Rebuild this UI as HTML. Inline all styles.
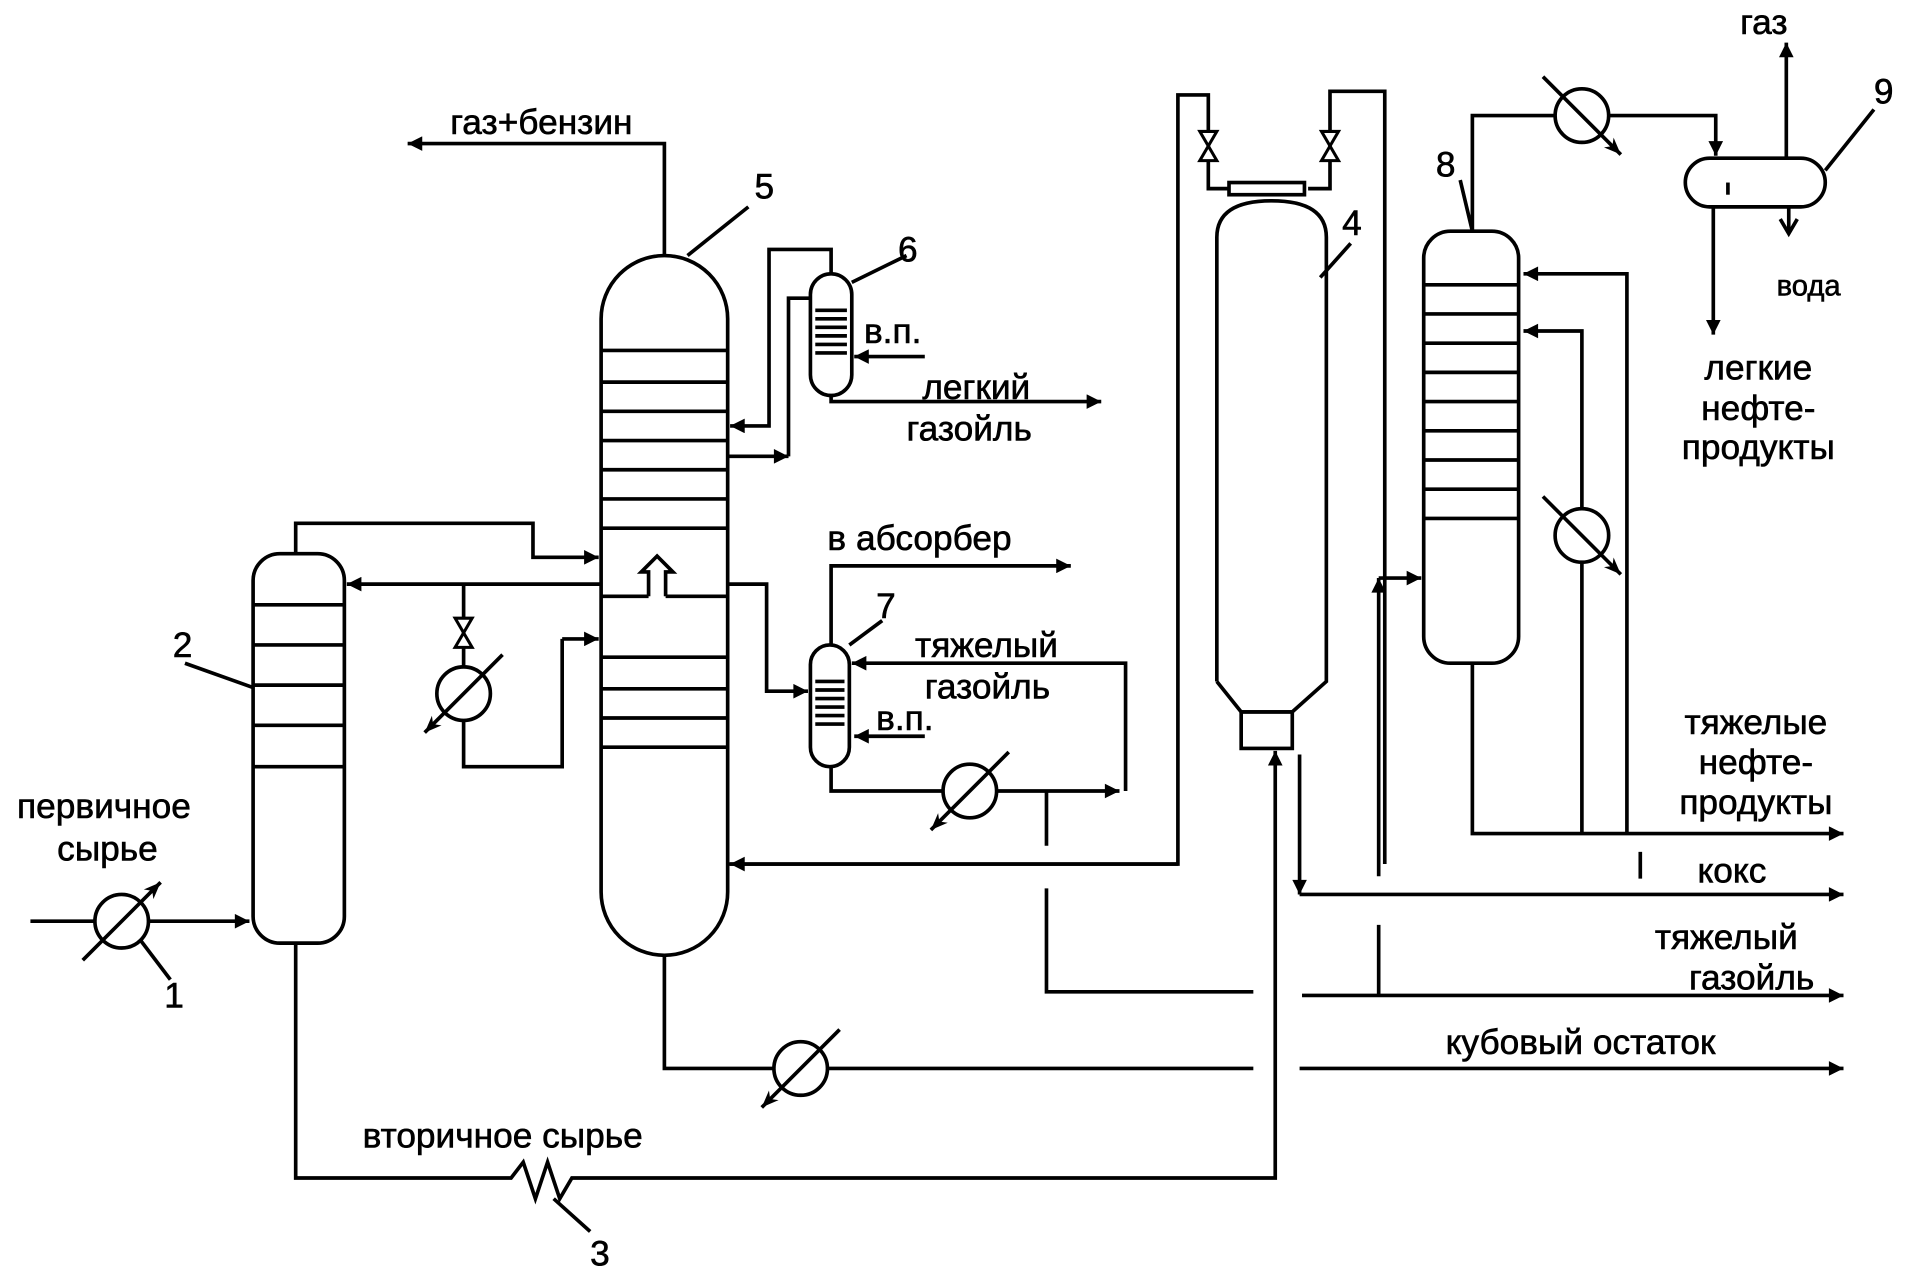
<!DOCTYPE html>
<html><head><meta charset="utf-8"><style>
html,body{margin:0;padding:0;background:#fff;}
svg{display:block}
text{font-family:"Liberation Sans",sans-serif;font-size:29px;fill:#000;stroke:#000;stroke-width:0.5}
</style></head><body>
<svg width="1908" height="1279" viewBox="0 0 1568 1051" preserveAspectRatio="none" xmlns="http://www.w3.org/2000/svg">
<defs>
<marker id="a" viewBox="0 0 10 10" refX="10" refY="5" markerWidth="14" markerHeight="12" markerUnits="userSpaceOnUse" orient="auto"><path d="M0,0L10,5L0,10z"/></marker>
<marker id="b" viewBox="0 0 10 10" refX="10" refY="5" markerWidth="18" markerHeight="14" markerUnits="userSpaceOnUse" orient="auto"><path d="M0,1L10,5L0,9L3,5z"/></marker>
<g id="hx"><circle r="22" fill="#fff" stroke="#000" stroke-width="3"/><line x1="-32" y1="32" x2="32" y2="-32" stroke="#000" stroke-width="3" marker-end="url(#b)"/></g>
<g id="hx2"><circle r="22" fill="#fff" stroke="#000" stroke-width="3"/><line x1="32" y1="-32" x2="-32" y2="32" stroke="#000" stroke-width="3" marker-end="url(#b)"/></g>
<g id="hx3"><circle r="22" fill="#fff" stroke="#000" stroke-width="3"/><line x1="-32" y1="-32" x2="32" y2="32" stroke="#000" stroke-width="3" marker-end="url(#b)"/></g>
<g id="v"><path d="M-7,-12L7,-12L-7,12L7,12z" fill="#fff" stroke="#000" stroke-width="2.5"/></g>
</defs>
<g fill="none" stroke="#000" stroke-width="3">
<rect x="494" y="210" width="104" height="575" rx="52"/>
<path d="M494 288H598M494 314H598M494 338H598M494 362H598M494 386H598M494 410H598M494 434H598M494 490H533M547 490H598M494 540H598M494 566H598M494 590H598M494 614H598"/>
<path d="M533 490V470H527L540 457L553 470H547V490"/>
<path d="M546 210V118H335" marker-end="url(#a)"/>
<path d="M565 210L615 170"/>
<rect x="208" y="455" width="75" height="320" rx="22"/>
<path d="M208 497H283M208 530H283M208 563H283M208 596H283M208 630H283"/>
<path d="M243 455V430H438V458H492" marker-end="url(#a)"/>
<path d="M494 480H285" marker-end="url(#a)"/>
<path d="M381 480V548M381 592V630H462V525"/>
<path d="M462 525H492" marker-end="url(#a)"/>
<path d="M152 545L208 565"/>
<rect x="666" y="225" width="34" height="100" rx="17"/>
<path d="M670 255H696M670 262H696M670 269H696M670 276H696M670 283H696M670 290H696"/>
<path d="M683 225V205H632V350H600" marker-end="url(#a)"/>
<path d="M598 375H648" marker-end="url(#a)"/>
<path d="M648 375V245H666"/>
<path d="M760 293H702" marker-end="url(#a)"/>
<path d="M683 325V330H905" marker-end="url(#a)"/>
<path d="M700 232L745 210"/>
<rect x="666" y="530" width="32" height="100" rx="16"/>
<path d="M670 560H694M670 567H694M670 574H694M670 581H694M670 588H694M670 595H694"/>
<path d="M598 480H630V568H664" marker-end="url(#a)"/>
<path d="M683 530V465H880" marker-end="url(#a)"/>
<path d="M925 650V545H700" marker-end="url(#a)"/>
<path d="M760 605H702" marker-end="url(#a)"/>
<path d="M683 630V650H920" marker-end="url(#a)"/>
<path d="M698 530L725 510"/>
<path d="M860 650V695M860 730V815H1030"/>
<path d="M1070 818H1515" marker-end="url(#a)"/>
<path d="M1133 818V760"/>
<path d="M1133 720V475" marker-end="url(#a)"/>
<path d="M1133 475H1168" marker-end="url(#a)"/>
<path d="M598 710H968V78H993V155H1010M1075 155H1093V75H1138V710"/>
<path d="M968 710H600" marker-end="url(#a)"/>
<rect x="1010" y="150" width="62" height="10"/>
<path d="M1000 560V195Q1000 165 1045 165Q1090 165 1090 195V560L1062 585H1020L1000 560"/>
<rect x="1020" y="585" width="42" height="30"/>
<path d="M1085 228L1110 200"/>
<path d="M243 775V968H420L430 955L440 985L450 955L460 985L470 968H1048V617" marker-end="url(#a)"/>
<path d="M455 985L485 1012"/>
<path d="M1068 620V735" marker-end="url(#a)"/>
<path d="M1068 735H1515" marker-end="url(#a)"/>
<rect x="1170" y="190" width="78" height="355" rx="22"/>
<path d="M1170 234H1248M1170 258H1248M1170 282H1248M1170 306H1248M1170 330H1248M1170 354H1248M1170 378H1248M1170 402H1248M1170 426H1248"/>
<path d="M1210 190V95H1410V128" marker-end="url(#a)"/>
<path d="M1337 685V225H1252" marker-end="url(#a)"/>
<path d="M1300 685V272H1252" marker-end="url(#a)"/>
<path d="M1210 545V685H1515" marker-end="url(#a)"/>
<path d="M1348 700V722"/>
<path d="M1210 190L1200 148"/>
<rect x="1385" y="130" width="115" height="40" rx="20"/>
<path d="M1420 150V160"/>
<path d="M1468 130V35" marker-end="url(#a)"/>
<path d="M1408 170V275" marker-end="url(#a)"/>
<path d="M1470 170V192M1463 180L1470 192L1477 180"/>
<path d="M1500 140L1540 90"/>
<path d="M546 785V878H1030"/>
<path d="M1068 878H1515" marker-end="url(#a)"/>
<path d="M25 757H205" marker-end="url(#a)"/>
<path d="M115 772L140 805"/>
</g>
<use href="#hx" x="100" y="757"/>
<use href="#hx2" x="381" y="570"/>
<use href="#v" x="381" y="520"/>
<use href="#hx2" x="797" y="650"/>
<use href="#hx2" x="658" y="878"/>
<use href="#hx3" x="1300" y="95"/>
<use href="#hx3" x="1300" y="440"/>
<use href="#v" x="993" y="120"/>
<use href="#v" x="1093" y="120"/>
<text x="370" y="110">газ+бензин</text>
<text x="620" y="163">5</text>
<text x="738" y="215">6</text>
<text x="710" y="282">в.п.</text>
<text x="758" y="328">легкий</text>
<text x="745" y="362">газойль</text>
<text x="680" y="452">в абсорбер</text>
<text x="720" y="508">7</text>
<text x="752" y="540">тяжелый</text>
<text x="760" y="574">газойль</text>
<text x="720" y="600">в.п.</text>
<text x="142" y="540">2</text>
<text x="14" y="672">первичное</text>
<text x="47" y="707">сырье</text>
<text x="135" y="828">1</text>
<text x="298" y="943">вторичное сырье</text>
<text x="485" y="1040">3</text>
<text x="1103" y="193">4</text>
<text x="1180" y="145">8</text>
<text x="1430" y="28">газ</text>
<text x="1540" y="85">9</text>
<text x="1460" y="243" style="font-size:24px">вода</text>
<text x="1445" y="312" text-anchor="middle">легкие</text>
<text x="1445" y="345" text-anchor="middle">нефте-</text>
<text x="1445" y="377" text-anchor="middle">продукты</text>
<text x="1443" y="603" text-anchor="middle">тяжелые</text>
<text x="1443" y="636" text-anchor="middle">нефте-</text>
<text x="1443" y="669" text-anchor="middle">продукты</text>
<text x="1395" y="725">кокс</text>
<text x="1360" y="780">тяжелый</text>
<text x="1388" y="813">газойль</text>
<text x="1188" y="866">кубовый остаток</text>
</svg>
</body></html>
